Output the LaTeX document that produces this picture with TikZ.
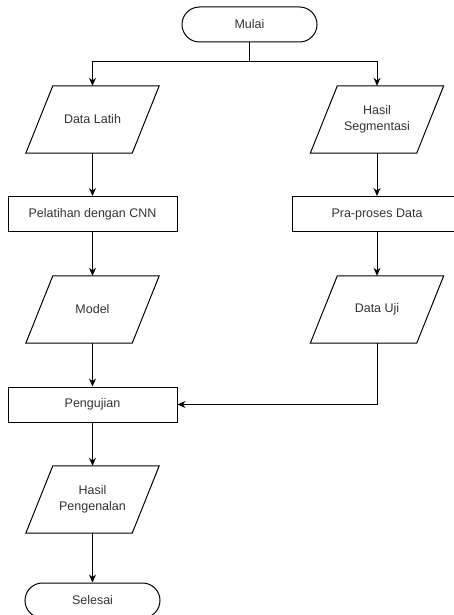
\documentclass[tikz,border=0pt]{standalone}
\usepackage{fontspec}
\setmainfont{Liberation Sans}
\usetikzlibrary{arrows.meta,calc,positioning,shapes.misc}

\begin{document}
\begin{tikzpicture}[
  x=1pt,y=-1pt,
  >={Stealth[length=8pt,width=7pt]},
  font=\fontsize{12.5}{16}\selectfont,
  every node/.style={text=black!80},
  terminal/.style={rounded rectangle,draw=black,line width=1pt,
    minimum width=135pt,minimum height=35pt,inner sep=0pt},
  inout/.style={rectangle,minimum width=106pt,minimum height=67pt,
    inner sep=0pt,align=center},
  process/.style={rectangle,draw=black,line width=1pt,
    minimum width=169pt,minimum height=35pt,inner sep=0pt},
  flow/.style={->,line width=1pt}
]
  \useasboundingbox (0,0) rectangle (453,615);

  \node[terminal] (mulai) at (249.5,24.5) {Mulai};
  \coordinate (cabang) at (249.5,62);

  % jalur kiri
  \node[inout] (latih) at (92.5,119.5) {Data Latih};
  \node[process] (pelatihan) at (92.5,214) {Pelatihan dengan CNN};
  \node[inout] (model) at (92.5,309.5) {Model};
  \node[process] (pengujian) at (92.5,404.5) {Pengujian};
  \node[inout] (hasil) at (92.5,499.5) {Hasil\\Pengenalan};
  \node[terminal] (selesai) at (92.5,600.5) {Selesai};

  % jalur kanan
  \node[inout] (segmen) at (377,119.5) {Hasil\\Segmentasi};
  \node[process] (praproses) at (377,214) {Pra-proses Data};
  \node[inout] (uji) at (377,309.5) {Data Uji};

  % jajar genjang data
  \foreach \n in {latih,model,hasil,segmen,uji}
    \draw[line width=1pt,line join=miter]
      ($(\n.north west)+(13.5,0)$) -- ($(\n.north east)+(13.5,0)$) --
      ($(\n.south east)+(-13.5,0)$) -- ($(\n.south west)+(-13.5,0)$) -- cycle;

  \draw[line width=1pt] (mulai.south) -- (cabang);
  \draw[flow] (cabang) -| (latih.north);
  \draw[flow] (cabang) -| (segmen.north);
  \draw[flow] (latih) -- (pelatihan);
  \draw[flow] (pelatihan) -- (model);
  \draw[flow] (model) -- (pengujian);
  \draw[flow] (segmen) -- (praproses);
  \draw[flow] (praproses) -- (uji);
  \draw[flow] (uji.south) |- (pengujian.east);
  \draw[flow] (pengujian) -- (hasil);
  \draw[flow] (hasil) -- (selesai);
\end{tikzpicture}
\end{document}
